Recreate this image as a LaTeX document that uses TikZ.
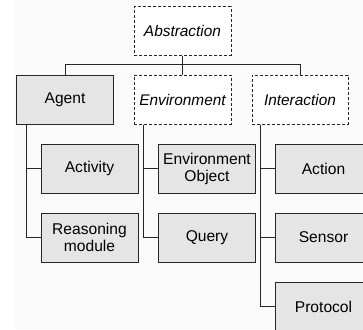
\documentclass[tikz,border=0pt]{standalone}
\usepackage{fontspec}
\setmainfont{Liberation Sans}
\begin{document}
\begin{tikzpicture}[x=1pt,y=-1pt,
  box/.style={draw=black!85, line width=1pt, fill=black!10, minimum width=97pt, minimum height=49pt, inner sep=1pt, align=center, font=\fontsize{15.6}{17}\selectfont},
  abox/.style={draw=black!85, line width=1pt, dash pattern=on 3pt off 2pt, fill=white, minimum width=97pt, minimum height=48pt, inner sep=1pt, font=\fontsize{15.4}{17}\selectfont\itshape},
  conn/.style={draw=black!85, line width=1pt}]
\useasboundingbox (0,0) rectangle (363,329);
\begin{scope}
\clip (0,0) rectangle (363,329);
\fill[black!2] (15,0) rectangle (363,329);
\node[abox] (abs) at (182.5,31) {Abstraction};
\node[box] (agent) at (65,99.5) {Agent};
\node[abox, minimum height=49pt] (env) at (182.5,99.5) {Environment};
\node[abox, minimum height=49pt, minimum width=96pt] (int) at (300,99.5) {Interaction};
\node[box] (act) at (89.5,168.5) {Activity};
\node[box] (reas) at (89.5,237.5) {Reasoning\\module};
\node[box] (envobj) at (207,168.5) {Environment\\Object};
\node[box] (query) at (207,237.5) {Query};
\node[box] (action) at (323.5,168.5) {Action};
\node[box] (sensor) at (323.5,237.5) {Sensor};
\node[box] (proto) at (323.5,306.5) {Protocol};
\draw[conn] (agent.north) -- ++(0,-10) -| (int.north);
\draw[conn] (abs.south) -- (env.north);
\draw[conn] ([xshift=10pt]agent.south west) |- (act.west);
\draw[conn] ([xshift=10pt]agent.south west) |- (reas.west);
\draw[conn] ([xshift=10pt]env.south west) |- (envobj.west);
\draw[conn] ([xshift=10pt]env.south west) |- (query.west);
\draw[conn] ([xshift=9pt]int.south west) |- (action.west);
\draw[conn] ([xshift=9pt]int.south west) |- (sensor.west);
\draw[conn] ([xshift=9pt]int.south west) |- (proto.west);
\end{scope}
\end{tikzpicture}
\end{document}
